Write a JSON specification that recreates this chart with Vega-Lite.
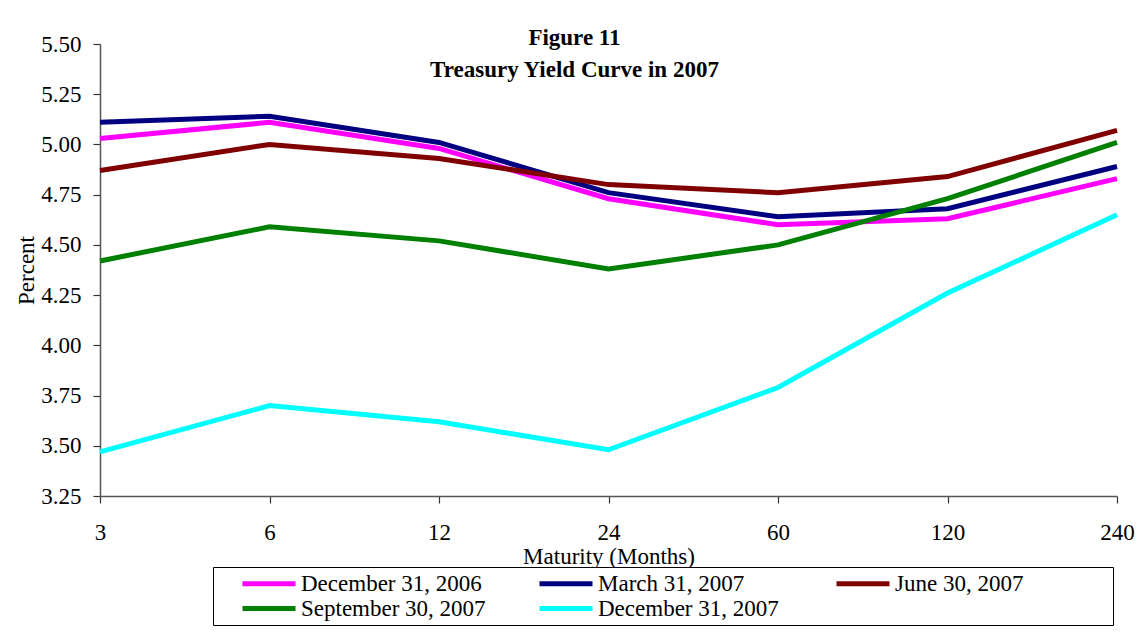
{
  "$schema": "https://vega.github.io/schema/vega-lite/v6.json",
  "width": 1017,
  "height": 452,
  "autosize": {"type": "none"},
  "padding": {"left": 100, "top": 44, "right": 21, "bottom": 136},
  "background": "white",
  "title": {
    "text": ["Figure 11", "Treasury Yield Curve in 2007"],
    "font": "Liberation Serif",
    "fontSize": 23,
    "fontWeight": "bold",
    "color": "black",
    "lineHeight": 32,
    "anchor": "middle",
    "frame": "group",
    "dx": -34,
    "offset": -49
  },
  "data": {
    "values": [
      {"date": "December 31, 2006", "maturity": 3, "yield": 5.03},
      {"date": "December 31, 2006", "maturity": 6, "yield": 5.11},
      {"date": "December 31, 2006", "maturity": 12, "yield": 4.98},
      {"date": "December 31, 2006", "maturity": 24, "yield": 4.73},
      {"date": "December 31, 2006", "maturity": 60, "yield": 4.60},
      {"date": "December 31, 2006", "maturity": 120, "yield": 4.63},
      {"date": "December 31, 2006", "maturity": 240, "yield": 4.83},
      {"date": "March 31, 2007", "maturity": 3, "yield": 5.11},
      {"date": "March 31, 2007", "maturity": 6, "yield": 5.14},
      {"date": "March 31, 2007", "maturity": 12, "yield": 5.01},
      {"date": "March 31, 2007", "maturity": 24, "yield": 4.76},
      {"date": "March 31, 2007", "maturity": 60, "yield": 4.64},
      {"date": "March 31, 2007", "maturity": 120, "yield": 4.68},
      {"date": "March 31, 2007", "maturity": 240, "yield": 4.89},
      {"date": "June 30, 2007", "maturity": 3, "yield": 4.87},
      {"date": "June 30, 2007", "maturity": 6, "yield": 5.00},
      {"date": "June 30, 2007", "maturity": 12, "yield": 4.93},
      {"date": "June 30, 2007", "maturity": 24, "yield": 4.80},
      {"date": "June 30, 2007", "maturity": 60, "yield": 4.76},
      {"date": "June 30, 2007", "maturity": 120, "yield": 4.84},
      {"date": "June 30, 2007", "maturity": 240, "yield": 5.07},
      {"date": "September 30, 2007", "maturity": 3, "yield": 4.42},
      {"date": "September 30, 2007", "maturity": 6, "yield": 4.59},
      {"date": "September 30, 2007", "maturity": 12, "yield": 4.52},
      {"date": "September 30, 2007", "maturity": 24, "yield": 4.38},
      {"date": "September 30, 2007", "maturity": 60, "yield": 4.50},
      {"date": "September 30, 2007", "maturity": 120, "yield": 4.73},
      {"date": "September 30, 2007", "maturity": 240, "yield": 5.01},
      {"date": "December 31, 2007", "maturity": 3, "yield": 3.47},
      {"date": "December 31, 2007", "maturity": 6, "yield": 3.70},
      {"date": "December 31, 2007", "maturity": 12, "yield": 3.62},
      {"date": "December 31, 2007", "maturity": 24, "yield": 3.48},
      {"date": "December 31, 2007", "maturity": 60, "yield": 3.79},
      {"date": "December 31, 2007", "maturity": 120, "yield": 4.26},
      {"date": "December 31, 2007", "maturity": 240, "yield": 4.65}
    ]
  },
  "mark": {"type": "line", "strokeWidth": 5, "strokeJoin": "miter"},
  "encoding": {
    "x": {
      "field": "maturity",
      "type": "ordinal",
      "scale": {"type": "point", "padding": 0},
      "axis": {
        "title": "Maturity (Months)",
        "labelAngle": 0,
        "grid": false,
        "tickSize": 7,
        "labelPadding": 18,
        "titlePadding": 1
      }
    },
    "y": {
      "field": "yield",
      "type": "quantitative",
      "scale": {"domain": [3.25, 5.5], "nice": false, "zero": false},
      "axis": {
        "title": "Percent",
        "values": [3.25, 3.5, 3.75, 4.0, 4.25, 4.5, 4.75, 5.0, 5.25, 5.5],
        "format": ".2f",
        "grid": false,
        "tickSize": 7,
        "labelPadding": 12,
        "titlePadding": 2
      }
    },
    "color": {
      "field": "date",
      "type": "nominal",
      "sort": ["December 31, 2006", "March 31, 2007", "June 30, 2007", "September 30, 2007", "December 31, 2007"],
      "scale": {
        "domain": ["December 31, 2006", "March 31, 2007", "June 30, 2007", "September 30, 2007", "December 31, 2007"],
        "range": ["#FF00FF", "#000080", "#800000", "#008000", "#00FFFF"]
      },
      "legend": {
        "title": " ",
        "titleOrient": "right",
        "titlePadding": 86,
        "titleFontSize": 4,
        "orient": "none",
        "legendX": 113,
        "legendY": 523,
        "direction": "horizontal",
        "columns": 3,
        "gridAlign": "all",
        "columnPadding": 28,
        "rowPadding": 0,
        "padding": 4,
        "symbolOffset": 39.5,
        "symbolType": "M-2.65,0H2.65",
        "symbolSize": 400,
        "symbolStrokeWidth": 5,
        "labelOffset": 19.5,
        "labelFont": "Liberation Serif",
        "labelFontSize": 23,
        "labelColor": "black",
        "labelLimit": 400,
        "strokeColor": "black",
        "fillColor": "white"
      }
    }
  },
  "config": {
    "view": {"stroke": null},
    "axis": {
      "labelFont": "Liberation Serif",
      "labelFontSize": 23,
      "labelColor": "black",
      "titleFont": "Liberation Serif",
      "titleFontSize": 23,
      "titleFontWeight": "normal",
      "titleColor": "black",
      "domainColor": "#555555",
      "tickColor": "#333333",
      "domainWidth": 1.5,
      "tickWidth": 1.2
    }
  }
}
